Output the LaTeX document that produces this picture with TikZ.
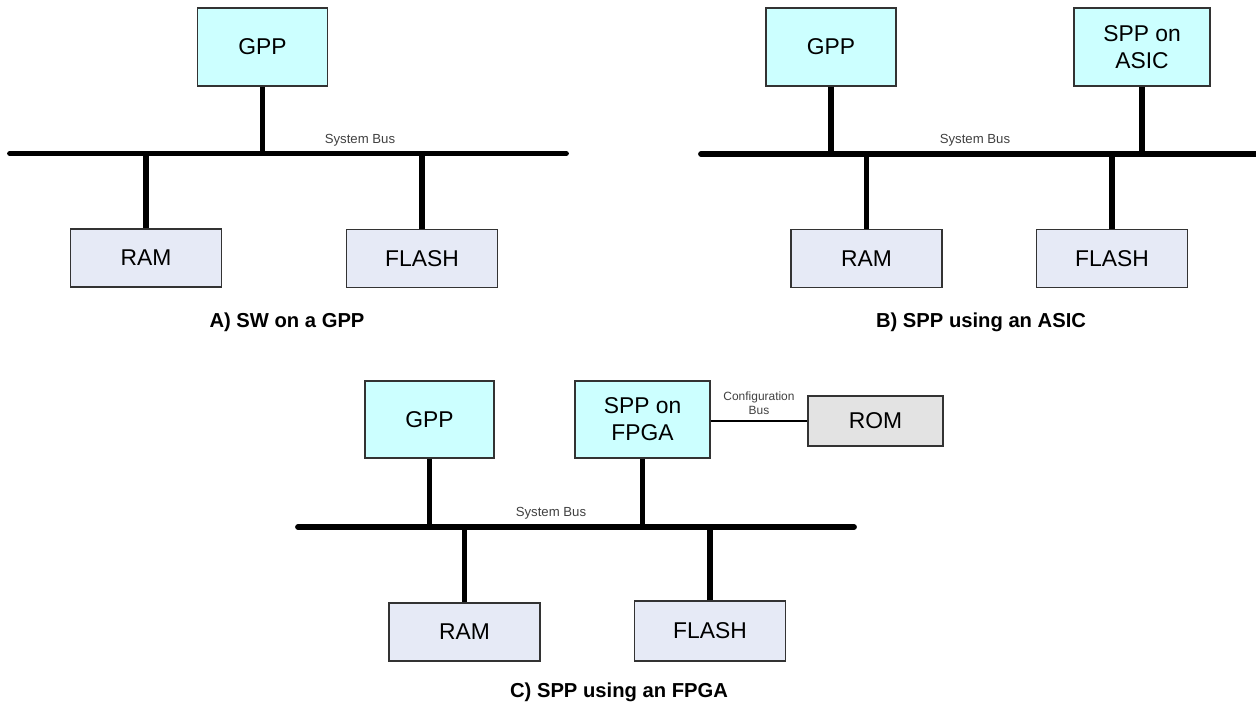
\documentclass[tikz,border=0pt]{standalone}
\usepackage{fontspec}
\setmainfont{Liberation Sans}
\usetikzlibrary{calc}
\definecolor{cpucyan}{HTML}{CCFFFF}
\definecolor{memblue}{HTML}{E6EAF6}
\definecolor{romgrey}{HTML}{E3E3E3}

\begin{document}
\begin{tikzpicture}[x=0.02cm, y=-0.02cm,
		box/.style={draw=black!80, line width=0.8pt, align=center, inner sep=0pt,
			font=\fontsize{13}{15.5}\selectfont},
		cpu/.style={box, fill=cpucyan, minimum height=1.56cm},
		mem/.style={box, fill=memblue, minimum width=3.02cm, minimum height=1.16cm},
		bus/.style={line width=3.3pt, line cap=round},
		link/.style={line width=3.3pt},
		buslabel/.style={font=\fontsize{7.5}{8.5}\selectfont, text=black!75, align=center},
		caption/.style={font=\bfseries\fontsize{11.5}{13}\selectfont}]
		\useasboundingbox (0,0) rectangle (1256,704);
		
		%%%%% A) SW on a GPP %%%%%
		
		\node[cpu, minimum width=2.6cm] (gppA) at (262.5, 47) {GPP};
		\node[mem] (ramA) at (146, 258) {RAM};
		\node[mem] (flashA) at (422, 258.5) {FLASH};
		
		\coordinate (busAl) at (10, 153.5);
		\coordinate (busAr) at (566, 153.5);
		\draw[bus] (busAl) -- (busAr);
		\node[buslabel] (sysbusA) at (360, 140) {System Bus};
		
		\draw[link] (gppA.south) -- (gppA.south |- busAl);
		\draw[link] (ramA.north) -- (ramA.north |- busAl);
		\draw[link] (flashA.north) -- (flashA.north |- busAl);
		
		\node[caption] (capA) at (287, 322) {A) SW on a GPP};
		
		%%%%% B) SPP using an ASIC %%%%%
		
		\node[cpu, minimum width=2.6cm] (gppB) at (831, 47) {GPP};
		\node[cpu, minimum width=2.72cm] (asic) at (1142, 47) {SPP on\\ASIC};
		\node[mem] (ramB) at (866.5, 258.5) {RAM};
		\node[mem] (flashB) at (1112, 258.5) {FLASH};
		
		\coordinate (busBl) at (701, 154);
		\coordinate (busBr) at (1256, 154);
		\draw[bus] (busBl) -- (busBr);
		\node[buslabel] (sysbusB) at (975, 140) {System Bus};
		
		\draw[link] (gppB.south) -- (gppB.south |- busBl);
		\draw[link] (asic.south) -- (asic.south |- busBl);
		\draw[link] (ramB.north) -- (ramB.north |- busBl);
		\draw[link] (flashB.north) -- (flashB.north |- busBl);
		
		\node[caption] (capB) at (981, 322) {B) SPP using an ASIC};
		
		%%%%% C) SPP using an FPGA %%%%%
		
		\node[cpu, minimum width=2.58cm, minimum height=1.54cm] (gppC) at (429.5, 419.5) {GPP};
		\node[cpu, minimum width=2.7cm, minimum height=1.54cm] (fpga) at (642.5, 419.5) {SPP on\\FPGA};
		\node[box, fill=romgrey, minimum width=2.7cm, minimum height=1cm] (rom) at (875.5, 421) {ROM};
		
		\draw[line width=1.1pt] (fpga.east |- rom.west) -- (rom.west);
		\node[buslabel, font=\fontsize{6.8}{8}\selectfont] (cfgbus) at (759, 403) {Configuration\\Bus};
		
		\node[mem] (ramC) at (464.5, 632) {RAM};
		\node[mem, minimum height=1.2cm] (flashC) at (710, 631) {FLASH};
		
		\coordinate (busCl) at (298, 527);
		\coordinate (busCr) at (854, 527);
		\draw[bus] (busCl) -- (busCr);
		\node[buslabel] (sysbusC) at (551, 513) {System Bus};
		
		\draw[link] (gppC.south) -- (gppC.south |- busCl);
		\draw[link] (fpga.south) -- (fpga.south |- busCl);
		\draw[link] (ramC.north) -- (ramC.north |- busCl);
		\draw[link] (flashC.north) -- (flashC.north |- busCl);
		
		\node[caption] (capC) at (619, 692) {C) SPP using an FPGA};
		
	\end{tikzpicture}
\end{document}
